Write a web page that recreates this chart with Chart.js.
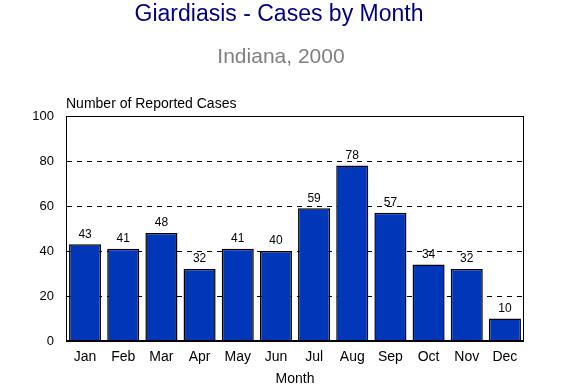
<!DOCTYPE html>
<html lang="en">
<head>
  <meta charset="UTF-8">
  <title>Giardiasis - Cases by Month</title>
  <script src="https://cdn.jsdelivr.net/npm/chart.js"></script>
  <style>
    html, body { margin: 0; padding: 0; background: #fff; }
    #wrap { width: 561px; height: 389px; }
  </style>
</head>
<body>
  <div id="wrap"><canvas id="grafica" width="561" height="389"></canvas></div>

  <script>
    // data
    const months = ['Jan', 'Feb', 'Mar', 'Apr', 'May', 'Jun', 'Jul', 'Aug', 'Sep', 'Oct', 'Nov', 'Dec'];
    const cases = [43, 41, 48, 32, 41, 40, 59, 78, 57, 34, 32, 10];
    const yTicks = [0, 20, 40, 60, 80, 100];

    const FONT = '"Liberation Sans", Arial, sans-serif';

    // titles, frame and value labels drawn on top of the chart
    const extras = {
      id: 'extras',
      afterDraw(chart) {
        const ctx = chart.ctx;
        const a = chart.chartArea;
        ctx.save();
        ctx.textAlign = 'center';
        ctx.textBaseline = 'middle';
        ctx.fillStyle = '#000080';
        ctx.font = '23px ' + FONT;
        ctx.fillText('Giardiasis - Cases by Month', 279, 15);
        ctx.fillStyle = '#808080';
        ctx.font = '21px ' + FONT;
        ctx.fillText('Indiana, 2000', 281, 57);

        ctx.fillStyle = '#000';
        ctx.font = '14px ' + FONT;
        ctx.fillText('Month', (a.left + a.right) / 2, 379);
        ctx.textAlign = 'left';
        ctx.font = '14px ' + FONT;
        ctx.fillText('Number of Reported Cases', a.left, 104);

        // frame
        ctx.strokeStyle = '#000';
        ctx.lineWidth = 1;
        ctx.strokeRect(a.left + 0.5, a.top + 0.5, a.right - a.left - 1, a.bottom - a.top);
        ctx.lineWidth = 2;
        ctx.beginPath();
        ctx.moveTo(a.left, a.bottom);
        ctx.lineTo(a.right, a.bottom);
        ctx.stroke();

        // value labels
        ctx.textAlign = 'center';
        ctx.textBaseline = 'bottom';
        ctx.font = '12px ' + FONT;
        const meta = chart.getDatasetMeta(0);
        meta.data.forEach((bar, i) => {
          ctx.fillText(String(cases[i]), bar.x, bar.y - 4);
        });
        ctx.restore();
      }
    };

    new Chart(document.getElementById('grafica').getContext('2d'), {
      type: 'bar',
      data: {
        labels: months,
        datasets: [{
          data: cases,
          backgroundColor: '#0036b8',
          borderColor: '#000',
          borderWidth: 1.5,
          barPercentage: 0.84,
          categoryPercentage: 1
        }]
      },
      options: {
        responsive: false,
        animation: false,
        layout: { padding: { top: 116, right: 37, left: 0, bottom: 0 } },
        plugins: {
          legend: { display: false },
          tooltip: { enabled: false }
        },
        scales: {
          x: {
            grid: { display: false },
            border: { display: false },
            ticks: { color: '#000', font: { size: 14, family: FONT }, padding: 0 },
            afterFit(scale) { scale.height = 48; }
          },
          y: {
            min: 0,
            max: 100,
            afterBuildTicks(scale) { scale.ticks = yTicks.map(v => ({ value: v })); },
            grid: {
              color: ctx => (ctx.tick.value === 0 || ctx.tick.value === 100) ? 'rgba(0,0,0,0)' : '#000',
              drawTicks: false,
              lineWidth: 1
            },
            border: { display: true, color: '#000', dash: [5, 5] },
            ticks: { color: '#000', font: { size: 13, family: FONT }, padding: 12 },
            afterFit(scale) { scale.width = 66; }
          }
        }
      },
      plugins: [extras]
    });
  </script>
</body>
</html>
